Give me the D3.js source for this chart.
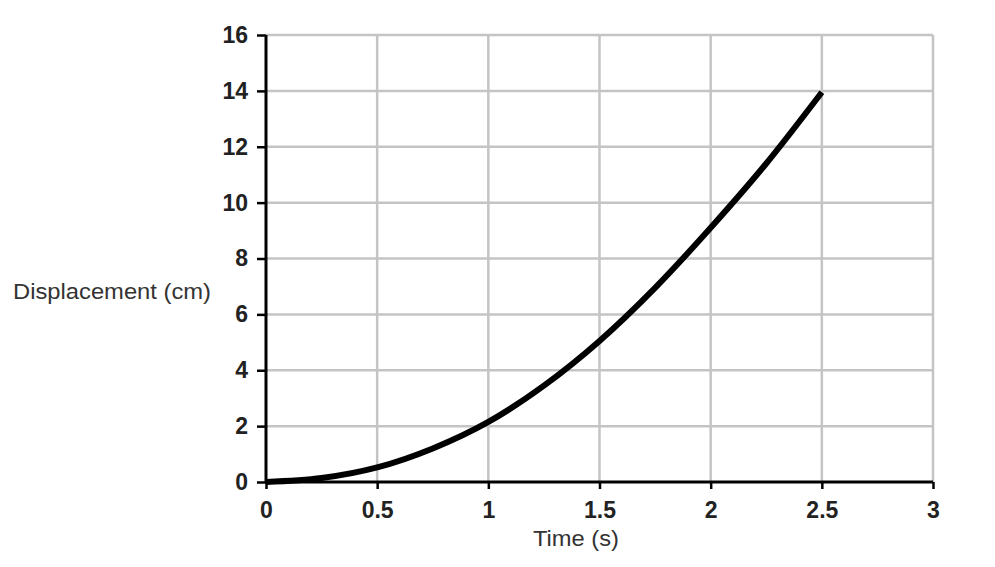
<!DOCTYPE html>
<html>
<head>
<meta charset="utf-8">
<script src="https://cdn.jsdelivr.net/npm/d3@7"></script>
<style>
  body { margin: 0; background: #fff; }
  svg { display: block; }
  .tick text { font-family: "Liberation Sans", Arial, sans-serif; font-weight: bold; font-size: 23px; fill: #222; }
  .title { font-family: "Liberation Sans", Arial, sans-serif; font-size: 22px; fill: #333; }
</style>
</head>
<body>
<svg id="chart" width="995" height="567"></svg>
<script>
// values
var times = [0, 0.25, 0.5, 0.75, 1, 1.25, 1.5, 1.75, 2, 2.25, 2.5];
var displacement = [0, 0.14, 0.52, 1.2, 2.15, 3.45, 5.05, 6.95, 9.1, 11.4, 13.95];
var xTicks = [0, 0.5, 1, 1.5, 2, 2.5, 3];
var yTicks = [0, 2, 4, 6, 8, 10, 12, 14, 16];

var svg = d3.select("#chart");

var x = d3.scaleLinear().domain([0, 3]).range([266, 933]);
var y = d3.scaleLinear().domain([0, 16]).range([482, 35]);

// grid
svg.append("g").selectAll("line")
    .data(xTicks.slice(1))
  .enter().append("line")
    .attr("x1", function(d) { return x(d); })
    .attr("x2", function(d) { return x(d); })
    .attr("y1", y(0))
    .attr("y2", y(16))
    .attr("stroke", "#c4c4c4")
    .attr("stroke-width", 2.5);

svg.append("g").selectAll("line")
    .data(yTicks.slice(1))
  .enter().append("line")
    .attr("x1", x(0))
    .attr("x2", x(3))
    .attr("y1", function(d) { return y(d); })
    .attr("y2", function(d) { return y(d); })
    .attr("stroke", "#c4c4c4")
    .attr("stroke-width", 2.5);

// axes
var xAxis = svg.append("g")
    .attr("transform", "translate(0," + y(0) + ")")
    .call(d3.axisBottom(x).tickValues(xTicks).tickSize(7).tickPadding(13)
          .tickFormat(function(d) { return d; }));

var yAxis = svg.append("g")
    .attr("transform", "translate(" + x(0) + ",0)")
    .call(d3.axisLeft(y).tickValues(yTicks).tickSize(9).tickPadding(9));

[xAxis, yAxis].forEach(function(ax) {
    ax.select(".domain").attr("stroke", "#000").attr("stroke-width", 3);
    ax.selectAll(".tick line").attr("stroke", "#000").attr("stroke-width", 2.5);
});
xAxis.select(".domain").attr("d", "M" + x(0) + ",0H" + x(3));
yAxis.select(".domain").attr("d", "M0," + y(0) + "V" + y(16));

// curve
var line = d3.line()
    .x(function(d, i) { return x(times[i]); })
    .y(function(d) { return y(d); })
    .curve(d3.curveMonotoneX);

svg.append("path")
    .datum(displacement)
    .attr("d", line)
    .attr("fill", "none")
    .attr("stroke", "#000")
    .attr("stroke-width", 6)
    .attr("stroke-linecap", "butt");

// axis titles
svg.append("text")
    .attr("class", "title")
    .attr("x", 533)
    .attr("y", 546)
    .attr("textLength", 86)
    .attr("lengthAdjust", "spacingAndGlyphs")
    .text("Time (s)");

svg.append("text")
    .attr("class", "title")
    .attr("x", 13)
    .attr("y", 299)
    .attr("textLength", 198)
    .attr("lengthAdjust", "spacingAndGlyphs")
    .text("Displacement (cm)");
</script>
</body>
</html>
